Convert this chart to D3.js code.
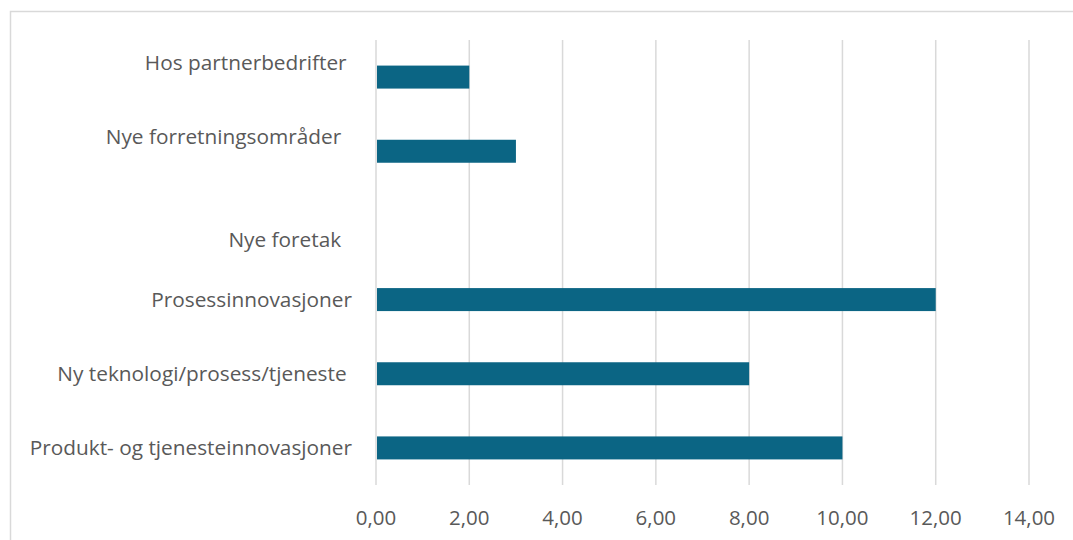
<!DOCTYPE html>
<html>
<head>
<meta charset="utf-8">
<script src="https://cdn.jsdelivr.net/npm/d3@7"></script>
<style>
  html, body { margin: 0; padding: 0; background: #fff; }
  svg { display: block; }
</style>
</head>
<body>
<svg id="chart"></svg>
<script>
// categories top to bottom; line breaks as in the original labels
const categories = [
  "Hos partnerbedrifter \n",
  "Nye forretningsområder  \n",
  "\nNye foretak  ",
  "Prosessinnovasjoner",
  "Ny teknologi/prosess/tjeneste ",
  "Produkt- og tjenesteinnovasjoner"
];
const values = [2, 3, 0, 12, 8, 10];
const xTicks = [0, 2, 4, 6, 8, 10, 12, 14];

const W = 1073, H = 540;
const margin = { top: 40, right: 44, bottom: 55, left: 376 };
const fmt = d => d.toFixed(2).replace(".", ",");

const svg = d3.select("#chart").attr("width", W).attr("height", H);

// outer frame
svg.append("rect")
  .attr("x", 10.5).attr("y", 11.5)
  .attr("width", W + 20).attr("height", H + 20)
  .attr("fill", "none").attr("stroke", "#d9d9d9").attr("stroke-width", 1.5);

const x = d3.scaleLinear().domain([0, 14]).range([margin.left, W - margin.right]);
const y = d3.scaleBand().domain(d3.range(categories.length))
  .range([margin.top, H - margin.bottom])
  .paddingInner(0.69).paddingOuter(0.345);

// gridlines
svg.append("g").selectAll("line").data(xTicks).join("line")
  .attr("x1", d => x(d)).attr("x2", d => x(d))
  .attr("y1", margin.top).attr("y2", H - margin.bottom)
  .attr("stroke", "#d9d9d9").attr("stroke-width", 1.5);

// bars
svg.append("g").selectAll("rect").data(values).join("rect")
  .attr("x", x(0) + 1)
  .attr("y", (d, i) => y(i))
  .attr("width", d => Math.max(0, x(d) - x(0) - 1))
  .attr("height", y.bandwidth())
  .attr("fill", "#0b6584");

// category labels
const fontFam = "'Open Sans', sans-serif";
const fs = 20.8;
const lineH = 29;
const lab = svg.append("g").selectAll("text").data(categories).join("text")
  .attr("x", 352)
  .attr("text-anchor", "end")
  .attr("font-family", fontFam).attr("font-size", fs)
  .attr("fill", "#595959")
  .attr("xml:space", "preserve")
  .style("white-space", "pre");
lab.each(function (d, i) {
  const lines = d.split("\n");
  const cy = y(i) + y.bandwidth() / 2;
  const top = cy - (lines.length - 1) * lineH / 2;
  const t = d3.select(this);
  lines.forEach((ln, k) => {
    t.append("tspan").attr("x", 352).attr("y", top + k * lineH)
      .attr("dy", "0.35em").text(ln);
  });
});

// x tick labels
svg.append("g").selectAll("text").data(xTicks).join("text")
  .attr("x", d => x(d)).attr("y", 517.5)
  .attr("dy", "0.35em")
  .attr("text-anchor", "middle")
  .attr("font-family", fontFam).attr("font-size", 20.5)
  .attr("fill", "#595959")
  .text(fmt);
</script>
</body>
</html>
